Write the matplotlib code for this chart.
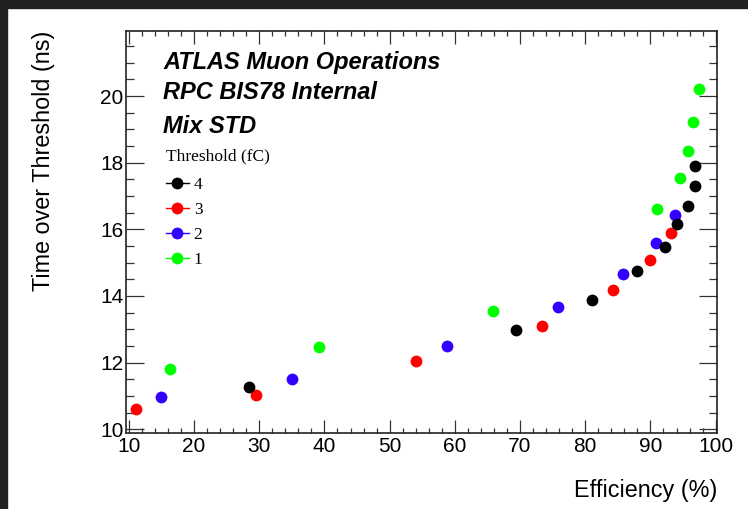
import matplotlib
matplotlib.use("Agg")
import matplotlib.pyplot as plt
from matplotlib.lines import Line2D
from matplotlib.patches import Rectangle
from matplotlib.ticker import MultipleLocator

# efficiency (%) and time over threshold (ns) per threshold setting
eff_4fc = [28.4, 69.4, 81.0, 88.0, 92.2, 94.1, 95.8, 96.8, 96.9]
tot_4fc = [11.28, 12.98, 13.88, 14.75, 15.48, 16.17, 16.71, 17.30, 17.91]
eff_3fc = [11.1, 29.5, 54.0, 73.3, 84.3, 89.9, 93.2]
tot_3fc = [10.60, 11.03, 12.05, 13.11, 14.17, 15.08, 15.88]
eff_2fc = [14.9, 35.0, 58.8, 75.9, 85.8, 90.9, 93.8]
tot_2fc = [10.98, 11.50, 12.50, 13.66, 14.65, 15.58, 16.43]
eff_1fc = [16.3, 39.1, 65.8, 91.0, 94.5, 95.7, 96.6, 97.5]
tot_1fc = [11.80, 12.46, 13.56, 16.62, 17.53, 18.36, 19.23, 20.20]

labels = ["4", "3", "2", "1"]
colors = ["#000000", "#ff0000", "#3300ff", "#00ff00"]

sans = "Liberation Sans"
serif = "Liberation Serif"

fig = plt.figure(figsize=(7.48, 5.09), dpi=100)
ax = fig.add_axes([0.1689, 0.1487, 0.7901, 0.7910])

# dark screenshot border (left and top)
fig.patches.append(Rectangle((0, 0), 7 / 748, 1, transform=fig.transFigure,
                             color="#202020", zorder=10))
fig.patches.append(Rectangle((0, 1 - 8 / 509), 1, 8 / 509, transform=fig.transFigure,
                             color="#202020", zorder=10))

series = [(eff_1fc, tot_1fc, 3), (eff_2fc, tot_2fc, 2),
          (eff_3fc, tot_3fc, 1), (eff_4fc, tot_4fc, 0)]
for xs, ys, i in series:
    ax.plot(xs, ys, "o", color=colors[i], markersize=8.5, markeredgewidth=0)

ax.set_xlim(9.62, 100.26)
ax.set_ylim(9.88, 21.96)
ax.xaxis.set_major_locator(MultipleLocator(10))
ax.xaxis.set_minor_locator(MultipleLocator(2))
ax.yaxis.set_major_locator(MultipleLocator(2))
ax.yaxis.set_minor_locator(MultipleLocator(0.5))

ax.tick_params(axis="both", which="both", direction="in", top=True, right=True,
               color="#333333", width=0.9)
ax.tick_params(axis="x", which="major", length=9.2, pad=3)
ax.tick_params(axis="x", which="minor", length=3.8)
ax.tick_params(axis="y", which="major", length=12.7, pad=2)
ax.tick_params(axis="y", which="minor", length=5.8)
for lab in ax.get_xticklabels() + ax.get_yticklabels():
    lab.set_family(sans)
    lab.set_fontsize(15)
for sp in ax.spines.values():
    sp.set_linewidth(1.2)
    sp.set_color("#222222")

ax.set_xlabel("Efficiency (%)", family=sans, fontsize=16.8, loc="right")
ax.xaxis.set_label_coords(1.0, -0.114)
ax.set_ylabel("Time over Threshold (ns)", family=sans, fontsize=16.8, loc="top")
ax.yaxis.set_label_coords(-0.121, 1.0)

for txt, yy in [("ATLAS Muon Operations", 0.904), ("RPC BIS78 Internal", 0.8296),
                ("Mix STD", 0.7452)]:
    ax.text(0.0626, yy, txt, transform=ax.transAxes, family=sans, fontsize=17,
            weight="bold", style="italic", va="baseline")

ax.text(0.067, 0.677, "Threshold (fC)", transform=ax.transAxes, family=serif,
        fontsize=12.5, va="baseline")

handles = [Line2D([], [], color=c, lw=1, marker="o", markersize=8.5,
                  markeredgewidth=0) for c in colors]
leg = ax.legend(handles, labels, loc="upper left",
                bbox_to_anchor=(0.067, 0.636), frameon=False, borderpad=0,
                prop={"family": serif, "size": 12.5},
                handlelength=1.3, handletextpad=0.3,
                labelspacing=0.5, borderaxespad=0)

fig.savefig("out.png", dpi=100)
